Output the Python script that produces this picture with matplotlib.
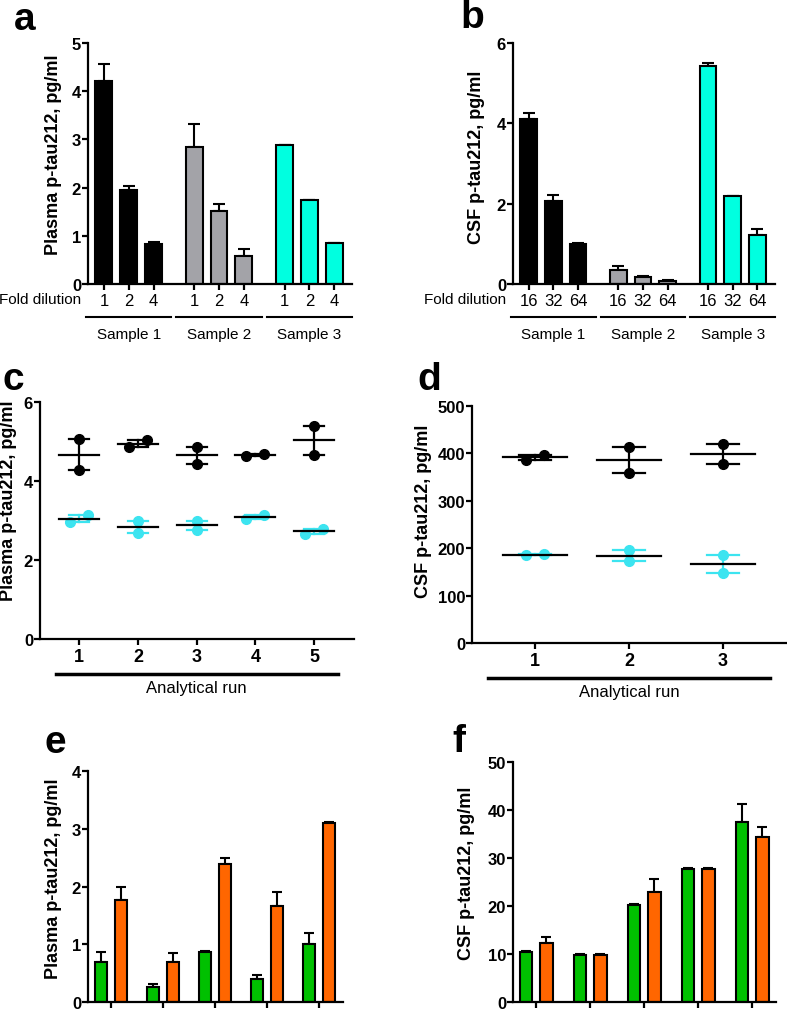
'''
six-panel figure: dilution linearity bars (a, b), run-to-run scatter (c, d),
group comparison bars (e, f)
'''

import matplotlib.pyplot as plt
from matplotlib.transforms import blended_transform_factory

plt.rcParams['font.family'] = ['Liberation Sans', 'DejaVu Sans']

W, H = 787, 1012

# ---- data -------------------------------------------------------------
SAMPLES = ['Sample 1', 'Sample 2', 'Sample 3']

A_DILUTIONS = ['1', '2', '4']
A_MEAN = [[4.22, 1.95, 0.82], [2.85, 1.51, 0.59], [2.88, 1.75, 0.85]]
A_ERR = [[0.35, 0.09, 0.05], [0.47, 0.16, 0.14], [0.0, 0.0, 0.01]]

B_DILUTIONS = ['16', '32', '64']
B_MEAN = [[4.11, 2.07, 1.00], [0.36, 0.17, 0.075], [5.42, 2.20, 1.23]]
B_ERR = [[0.14, 0.15, 0.01], [0.10, 0.04, 0.015], [0.08, 0.0, 0.14]]

C_RUNS = ['1', '2', '3', '4', '5']
C_HIGH = [(5.06, 4.28), (4.85, 5.04), (4.86, 4.44), (4.64, 4.69), (5.40, 4.67)]
C_LOW = [(2.96, 3.14), (3.00, 2.68), (3.00, 2.75), (3.03, 3.15), (2.66, 2.79)]

D_RUNS = ['1', '2', '3']
D_HIGH = [(387, 397), (413, 359), (419, 378)]
D_LOW = [(185, 188), (196, 173), (185, 148)]

E_GREEN = [0.69, 0.26, 0.86, 0.39, 1.00]
E_GREEN_ERR = [0.17, 0.06, 0.02, 0.07, 0.20]
E_ORANGE = [1.77, 0.70, 2.39, 1.67, 3.10]
E_ORANGE_ERR = [0.23, 0.15, 0.10, 0.24, 0.01]

F_GREEN = [10.5, 9.8, 20.3, 27.8, 37.5]
F_GREEN_ERR = [0.2, 0.3, 0.2, 0.2, 3.8]
F_ORANGE = [12.2, 9.8, 22.9, 27.8, 34.4]
F_ORANGE_ERR = [1.4, 0.3, 2.8, 0.2, 2.0]

SAMPLE_COLORS = ['#000000', '#A3A3A8', '#00FFE0']
DOT_COLORS = ['#000000', '#3CE4F0']
GREEN = '#00C000'
ORANGE = '#FF6600'

fig = plt.figure(figsize=(W / 100, H / 100), dpi=100)


def px_axes(left, top, right, bottom):
    return fig.add_axes([left / W, 1 - bottom / H, (right - left) / W, (bottom - top) / H])


def style(ax, ylabel, label_x, label_y):
    for s in ['top', 'right']:
        ax.spines[s].set_visible(False)
    for s in ['left', 'bottom']:
        ax.spines[s].set_linewidth(1.6)
    ax.tick_params(axis='both', width=1.6, length=4, direction='out')
    ax.tick_params(axis='y', pad=1, labelsize=12)
    for t in ax.get_yticklabels():
        t.set_fontweight('bold')
    ax.set_ylabel(ylabel, fontsize=13, fontweight='bold')
    ax.yaxis.set_label_coords(label_x, label_y)


def letter(s, x, y):
    fig.text(x / W, 1 - y / H, s, fontsize=28, fontweight='bold', va='baseline', ha='left')


def dilution_panel(ax, means, errs, dilutions, ymax, yticks, ylabel, label_x, label_y):
    pos = []
    for g in range(3):
        xs = [g * 3.64 + i for i in range(3)]
        pos += xs
        ax.bar(xs, means[g], width=0.68, color=SAMPLE_COLORS[g], edgecolor='black',
               linewidth=1.5, zorder=2)
        ax.errorbar(xs, means[g], yerr=[[0] * 3, errs[g]], fmt='none', ecolor='black',
                    elinewidth=1.5, capsize=4.5, capthick=1.5, zorder=1)
    ax.set_xlim(-0.64, 10.0)
    ax.set_ylim(0, ymax)
    ax.set_yticks(yticks)
    ax.set_xticks(pos)
    ax.set_xticklabels(dilutions * 3, fontsize=12)
    ax.tick_params(axis='x', pad=2.5)
    style(ax, ylabel, label_x, label_y)
    ax.annotate('Fold dilution', xy=(0, 0), xycoords='axes fraction', xytext=(-7, -15),
                textcoords='offset pixels', ha='right', va='center', fontsize=11)
    tr = blended_transform_factory(ax.transData, ax.transAxes)
    line_y = -33 / 241
    text_y = -50 / 241
    for g in range(3):
        c = g * 3.64 + 1
        ax.plot([c - 1.72, c + 1.72], [line_y, line_y], color='black', lw=1.5,
                transform=tr, clip_on=False)
        ax.text(c, text_y, SAMPLES[g], transform=tr, ha='center', va='center', fontsize=11)


# ---- panel a ----------------------------------------------------------
ax_a = px_axes(88, 44, 352, 285)
dilution_panel(ax_a, A_MEAN, A_ERR, A_DILUTIONS, 5, [0, 1, 2, 3, 4, 5],
               'Plasma p-tau212, pg/ml', -26 / 264, 0.54)
letter('a', 14, 30)

# ---- panel b ----------------------------------------------------------
ax_b = px_axes(513, 44, 775, 285)
dilution_panel(ax_b, B_MEAN, B_ERR, B_DILUTIONS, 6, [0, 2, 4, 6],
               'CSF p-tau212, pg/ml', -28 / 262, 0.53)
letter('b', 460, 28)


# ---- panels c and d ---------------------------------------------------
def scatter_panel(ax, runs, groups, xlim, ymax, yticks, ylabel, label_x, label_y,
                  line_span, width_px):
    ax.set_xlim(*xlim)
    ax.set_ylim(0, ymax)
    px_per_x = width_px / (xlim[1] - xlim[0])
    px_per_y = ax.get_position().height * H / ymax
    for gi, pairs in enumerate(groups):
        col = DOT_COLORS[gi]
        for i, pair in enumerate(pairs):
            x = i + 1
            lo, hi = min(pair), max(pair)
            mean = (lo + hi) / 2
            sem = (hi - lo) / 2
            # overlapping dots are spread sideways
            if (hi - lo) * px_per_y < 9:
                xs = [x - 9 / px_per_x, x + 9 / px_per_x]
            else:
                xs = [x, x]
            ax.plot([x, x], [lo, hi], color=col, lw=1.6, zorder=2)
            for v in (mean - sem, mean + sem):
                ax.plot([x - 0.17, x + 0.17], [v, v], color=col, lw=1.6, zorder=2)
            ax.plot(xs, [lo, hi], 'o', color=col, ms=7, zorder=3, clip_on=False)
            ax.plot([x - 0.34, x + 0.34], [mean, mean], color='black', lw=1.6, zorder=4)
    ax.set_yticks(yticks)
    ax.set_xticks(range(1, len(runs) + 1))
    ax.set_xticklabels(runs, fontsize=13, fontweight='bold')
    ax.tick_params(axis='x', pad=2.5)
    style(ax, ylabel, label_x, label_y)
    tr = blended_transform_factory(ax.transData, ax.transAxes)
    ax.plot(line_span, [-35 / 237, -35 / 237], color='black', lw=2.5,
            transform=tr, clip_on=False)
    ax.text(sum(line_span) / 2, -48 / 237, 'Analytical run', transform=tr,
            ha='center', va='center', fontsize=12)


ax_c = px_axes(40, 403, 354, 640)
scatter_panel(ax_c, C_RUNS, [C_HIGH, C_LOW], (0.33, 5.68), 6, [0, 2, 4, 6],
              'Plasma p-tau212, pg/ml', -23 / 314, 0.587, (0.6, 5.4), 314)
letter('c', 3, 390)

ax_d = px_axes(472, 407, 800, 644)
scatter_panel(ax_d, D_RUNS, [D_HIGH, D_LOW], (0.33, 3.82), 500,
              [0, 100, 200, 300, 400, 500],
              'CSF p-tau212, pg/ml', -40 / 328, 0.56, (0.5, 3.5), 328)
letter('d', 417, 390)


# ---- panels e and f ---------------------------------------------------
def pair_panel(ax, green, green_err, orange, orange_err, xlim, ymax, yticks,
               ylabel, label_x, label_y):
    xs = list(range(len(green)))
    for vals, errs, col, off in [(green, green_err, GREEN, -0.19),
                                 (orange, orange_err, ORANGE, 0.19)]:
        bx = [x + off for x in xs]
        ax.bar(bx, vals, width=0.23, color=col, edgecolor='black', linewidth=1.5, zorder=2)
        ax.errorbar(bx, vals, yerr=[[0] * len(vals), errs], fmt='none', ecolor='black',
                    elinewidth=1.5, capsize=3.5, capthick=1.5, zorder=1)
    ax.set_xlim(*xlim)
    ax.set_ylim(0, ymax)
    ax.set_yticks(yticks)
    ax.set_xticks(xs)
    ax.set_xticklabels([])
    style(ax, ylabel, label_x, label_y)


ax_e = px_axes(88, 772, 343, 1003)
pair_panel(ax_e, E_GREEN, E_GREEN_ERR, E_ORANGE, E_ORANGE_ERR, (-0.44, 4.46), 4,
           [0, 1, 2, 3, 4], 'Plasma p-tau212, pg/ml', -26 / 255, 0.54)
letter('e', 45, 753)

ax_f = px_axes(513, 763, 776, 1003)
pair_panel(ax_f, F_GREEN, F_GREEN_ERR, F_ORANGE, F_ORANGE_ERR, (-0.43, 4.44), 50,
           [0, 10, 20, 30, 40, 50], 'CSF p-tau212, pg/ml', -38 / 263, 0.54)
letter('f', 452, 752)

fig.savefig('out.png', dpi=100)
